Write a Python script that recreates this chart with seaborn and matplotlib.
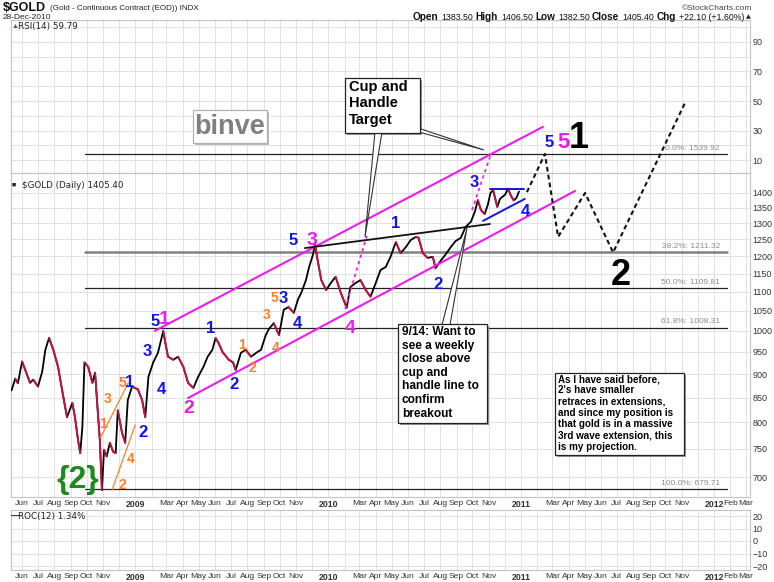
import numpy as np
import pandas as pd
import matplotlib
matplotlib.use("Agg")
import matplotlib.pyplot as plt
import matplotlib.ticker as mticker
from matplotlib.patches import Rectangle, Polygon
import seaborn as sns

# ---------------- data ----------------
price_dates = [
    "2008-05-12", "2008-05-19", "2008-05-24", "2008-06-01", "2008-06-07", "2008-06-16",
    "2008-06-22", "2008-07-01", "2008-07-09", "2008-07-15", "2008-07-22", "2008-07-30",
    "2008-08-08", "2008-08-18", "2008-08-25", "2008-09-04", "2008-09-09", "2008-09-15",
    "2008-09-19", "2008-09-23", "2008-09-27", "2008-10-04", "2008-10-12", "2008-10-17",
    "2008-10-22", "2008-10-26", "2008-10-30", "2008-11-03", "2008-11-08", "2008-11-14",
    "2008-11-20", "2008-11-25", "2008-11-29", "2008-12-07", "2008-12-13", "2008-12-18",
    "2008-12-26", "2009-01-06", "2009-01-14", "2009-01-20", "2009-01-26", "2009-02-04",
    "2009-02-13", "2009-02-23", "2009-02-27", "2009-03-04", "2009-03-14", "2009-03-23",
    "2009-04-02", "2009-04-11", "2009-04-21", "2009-04-30", "2009-05-10", "2009-05-18",
    "2009-05-27", "2009-06-02", "2009-06-08", "2009-06-15", "2009-06-27", "2009-07-05",
    "2009-07-10", "2009-07-20", "2009-07-29", "2009-08-08", "2009-08-18", "2009-08-27",
    "2009-09-05", "2009-09-11", "2009-09-20", "2009-09-30", "2009-10-09", "2009-10-18",
    "2009-10-28", "2009-11-05", "2009-11-11", "2009-11-20", "2009-11-26", "2009-12-03",
    "2009-12-07", "2009-12-13", "2009-12-19", "2009-12-28", "2010-01-06", "2010-01-15",
    "2010-01-25", "2010-02-05", "2010-02-12", "2010-02-22", "2010-03-03", "2010-03-13",
    "2010-03-22", "2010-04-01", "2010-04-10", "2010-04-20", "2010-04-29", "2010-05-09",
    "2010-05-18", "2010-05-28", "2010-06-06", "2010-06-16", "2010-06-21", "2010-06-29",
    "2010-07-08", "2010-07-18", "2010-07-23", "2010-08-01", "2010-08-11", "2010-08-21",
    "2010-08-30", "2010-09-09", "2010-09-18", "2010-09-28", "2010-10-06", "2010-10-11",
    "2010-10-17", "2010-10-24", "2010-10-30", "2010-11-04", "2010-11-09", "2010-11-17",
    "2010-11-22", "2010-12-02", "2010-12-07", "2010-12-13", "2010-12-18", "2010-12-23",
    "2010-12-28",
]
price_close = [
    865, 890, 880, 928, 909, 881,
    888, 873, 905, 955, 983, 955,
    916, 851, 810, 839, 810, 765,
    742, 791, 926, 916, 881, 903,
    824, 767, 678, 748, 736, 761,
    745, 742, 824, 780, 761, 845,
    873, 867, 845, 810, 894, 926,
    948, 1000, 971, 939, 932, 939,
    916, 881, 870, 894, 916, 939,
    955, 983, 970, 950, 932, 926,
    909, 948, 955, 939, 948, 955,
    990, 1005, 1019, 990, 1053, 1060,
    1045, 1080, 1097, 1132, 1169, 1203,
    1235, 1180, 1132, 1105, 1124, 1141,
    1097, 1058, 1113, 1124, 1132, 1105,
    1087, 1124, 1160, 1169, 1198, 1242,
    1209, 1227, 1248, 1258, 1255, 1209,
    1195, 1198, 1165, 1185, 1205, 1227,
    1245, 1255, 1289, 1305, 1340, 1376,
    1343, 1330, 1360, 1400, 1410, 1353,
    1380, 1395, 1415, 1390, 1375, 1383,
    1405,
]

fib_names = ["0.0%", "38.2%", "50.0%", "61.8%", "100.0%"]
fib_levels = [1539.92, 1211.32, 1109.81, 1008.31, 679.71]
fib_span = ["2008-09-28", "2012-01-25"]

upper_channel_dates = ["2009-02-07", "2011-02-11"]
upper_channel_prices = [1000, 1645]
lower_channel_dates = ["2009-04-11", "2011-04-13"]
lower_channel_prices = [849, 1407]
cup_line_dates = ["2009-11-18", "2010-11-03"]
cup_line_prices = [1224, 1298]
dash1_dates = ["2010-02-02", "2010-03-15"]
dash1_prices = [1055, 1261]
dash2_dates = ["2010-09-30", "2010-11-05"]
dash2_prices = [1343, 1540]
tri_top_dates = ["2010-11-03", "2011-01-06"]
tri_top_prices = [1414, 1414]
tri_bot_dates = ["2010-10-21", "2011-01-08"]
tri_bot_prices = [1308, 1380]
proj_dates = ["2011-01-12", "2011-02-15", "2011-03-12", "2011-05-02", "2011-06-24", "2011-11-07"]
proj_prices = [1403, 1540, 1258, 1400, 1211, 1744]
orange1_dates = ["2008-10-27", "2008-12-19"]
orange1_prices = [770, 881]
orange2_dates = ["2008-11-18", "2009-01-01"]
orange2_prices = [678, 795]

# wave labels: (date, price, text, colour-key, size)
wave_labels = [
    ("2009-02-07", 1022, "5", "blue", 12), ("2009-02-25", 1027, "1", "mag", 14),
    ("2009-01-23", 950, "3", "blue", 12), ("2009-02-19", 867, "4", "blue", 12),
    ("2009-01-16", 780, "2", "blue", 12), ("2008-12-22", 881, "1", "blue", 12),
    ("2009-05-24", 1005, "1", "blue", 12), ("2009-07-07", 877, "2", "blue", 12),
    ("2009-10-08", 1081, "3", "blue", 12), ("2009-11-03", 1019, "4", "blue", 12),
    ("2009-10-27", 1248, "5", "blue", 12), ("2010-05-09", 1301, "1", "blue", 12),
    ("2010-07-28", 1119, "2", "blue", 12), ("2010-10-04", 1438, "3", "blue", 12),
    ("2011-01-10", 1337, "4", "blue", 12), ("2011-02-23", 1582, "5", "blue", 12),
    ("2009-04-13", 828, "2", "mag", 14), ("2009-12-01", 1248, "3", "mag", 14),
    ("2010-02-11", 1007, "4", "mag", 14), ("2011-03-23", 1582, "5", "mag", 16),
    ("2008-11-01", 797, "1", "orange", 10), ("2008-11-10", 847, "3", "orange", 10),
    ("2008-12-07", 881, "5", "orange", 10), ("2008-12-24", 732, "4", "orange", 10),
    ("2008-12-07", 686, "2", "orange", 10), ("2009-07-22", 966, "1", "orange", 10),
    ("2009-08-10", 914, "2", "orange", 10), ("2009-09-07", 1040, "3", "orange", 10),
    ("2009-09-24", 959, "4", "orange", 10), ("2009-09-21", 1084, "5", "orange", 10),
    ("2011-04-20", 1601, "1", "black", 26), ("2011-07-09", 1144, "2", "black", 26),
    ("2008-09-15", 695, "{2}", "green", 23),
]

month_ticks = pd.date_range("2008-06-01", "2012-03-01", freq="MS")

# ---------------- style ----------------
sns.set_theme(style="white")
plt.rcParams["font.family"] = ["Liberation Sans", "DejaVu Sans"]

COL = {"blue": "#1414e6", "mag": "#ee1aee", "orange": "#ff7f2a",
       "black": "#000000", "green": "#1e8a1e"}
UP, DOWN = "#000000", "#d01040"
GRID = "#e2e2e2"

W, H = 774, 582
fig = plt.figure(figsize=(W / 100, H / 100), dpi=100)
fig.patch.set_facecolor("white")


def fx(x):
    return x / W


def fy(y):
    return 1 - y / H


L, R = 11, 750
ax_rsi = fig.add_axes([fx(L), fy(173), (R - L) / W, (173 - 20) / H], zorder=1)
ax = fig.add_axes([fx(L), fy(497), (R - L) / W, (497 - 173) / H], zorder=2)
ax_roc = fig.add_axes([fx(L), fy(570), (R - L) / W, (570 - 510) / H], zorder=1)
ax.set_facecolor("none")

dates = pd.to_datetime(price_dates)
close = np.array(price_close, dtype=float)

xmin, xmax = pd.Timestamp("2008-05-11"), pd.Timestamp("2012-03-09")

# price line via seaborn, down moves overlaid in red
sns.lineplot(x=dates, y=close, ax=ax, color=UP, lw=1.3, zorder=3)
for i in range(1, len(close)):
    if close[i] < close[i - 1]:
        ax.plot(dates[i - 1:i + 1], close[i - 1:i + 1], color=DOWN, lw=1.3, zorder=3.1,
                solid_capstyle="round")

ax.set_yscale("log")
ax.set_ylim(666.8, 1470)

for a in (ax_rsi, ax, ax_roc):
    a.set_xlim(xmin, xmax)
    a.set_xticks(month_ticks)
    a.grid(True, axis="x", color=GRID, lw=0.7)
    for s in a.spines.values():
        s.set_color("#c4c4c4")
        s.set_linewidth(0.8)
    a.yaxis.tick_right()
    a.tick_params(axis="both", length=0, pad=2, labelsize=6.5, colors="#333333")
    a.tick_params(axis="x", labelsize=6.1)
    a.set_xlabel("")
    a.set_ylabel("")

labels = []
for d in month_ticks:
    if d.month == 1:
        labels.append(str(d.year))
    elif d.month == 12 or (d.month == 2 and d.year != 2012):
        labels.append("")
    else:
        labels.append(d.strftime("%b"))
for a in (ax, ax_roc):
    a.set_xticklabels(labels)
    for t in a.get_xticklabels():
        if t.get_text().isdigit():
            t.set_fontweight("bold")
            t.set_fontsize(6.3)
ax_rsi.set_xticklabels([])

ax.yaxis.set_major_locator(mticker.FixedLocator(np.arange(700, 1401, 50)))
ax.yaxis.set_minor_locator(mticker.NullLocator())
ax.yaxis.set_major_formatter(mticker.FormatStrFormatter("%d"))
ax.grid(True, axis="y", color=GRID, lw=0.7)

ax_rsi.set_ylim(1.2, 104.9)
ax_rsi.set_yticks(np.arange(10, 101, 10))
ax_rsi.set_yticklabels([str(v) if v in (10, 30, 50, 70, 90) else "" for v in range(10, 101, 10)])
ax_rsi.grid(True, axis="y", color=GRID, lw=0.7)

ax_roc.set_ylim(-23.2, 24.8)
ax_roc.set_yticks([-20, -10, 0, 10, 20])
ax_roc.grid(True, axis="y", color=GRID, lw=0.7)

# ---------------- fibonacci lines ----------------
fs = pd.to_datetime(fib_span)
for name, lvl in zip(fib_names, fib_levels):
    lc, lw = ("#808080", 1.8) if name == "38.2%" else ("#222222", 0.9)
    ax.plot(fs, [lvl, lvl], color=lc, lw=lw, zorder=2.5, clip_on=False)
    ax.annotate(f"{name}: {lvl:.2f}", xy=(fs[1], lvl), xytext=(-5, 1.5),
                textcoords="offset points", ha="right", va="bottom",
                fontsize=6, color="#8c8c8c", annotation_clip=False, zorder=2.6)


# ---------------- trend lines ----------------
def seg(dl, pl, **kw):
    ax.plot(pd.to_datetime(dl), pl, clip_on=False, **kw)


seg(upper_channel_dates, upper_channel_prices, color=COL["mag"], lw=1.5, zorder=4)
seg(lower_channel_dates, lower_channel_prices, color=COL["mag"], lw=1.5, zorder=4)
seg(cup_line_dates, cup_line_prices, color="#111111", lw=1.3, zorder=4)
seg(dash1_dates, dash1_prices, color=COL["mag"], lw=1.2, ls=(0, (2, 2)), zorder=4)
seg(dash2_dates, dash2_prices, color=COL["mag"], lw=1.2, ls=(0, (2, 2)), zorder=4)
seg(tri_top_dates, tri_top_prices, color=COL["blue"], lw=1.4, zorder=4)
seg(tri_bot_dates, tri_bot_prices, color=COL["blue"], lw=1.4, zorder=4)
seg(proj_dates, proj_prices, color="#111111", lw=1.5, ls=(0, (2.2, 1.6)), zorder=4)
seg(orange1_dates, orange1_prices, color=COL["orange"], lw=0.9, zorder=4)
seg(orange2_dates, orange2_prices, color=COL["orange"], lw=0.9, zorder=4)

for d, p, txt, ck, size in wave_labels:
    ax.text(pd.Timestamp(d), p, txt, color=COL[ck], fontsize=size, fontweight="bold",
            ha="center", va="center", zorder=6, clip_on=False)

# ---------------- panel labels ----------------
fig.text(fx(18), fy(27), "RSI(14) 59.79", fontsize=6.3, family="DejaVu Sans",
         va="center", color="#222222")
fig.text(fx(12), fy(27), "\u25b2", fontsize=5, color="#2a7a2a", va="center")
fig.text(fx(22), fy(185), "$GOLD (Daily) 1405.40", fontsize=6.3, family="DejaVu Sans",
         va="center", color="#222222")
fig.text(fx(12), fy(185), "\u25a0", fontsize=5, color="#222222", va="center")
fig.text(fx(18), fy(516), "ROC(12) 1.34%", fontsize=6.3, family="DejaVu Sans",
         va="center", color="#222222")
fig.text(fx(11), fy(516), "\u2014", fontsize=6, color="#000000", va="center",
         fontweight="bold")

# ---------------- header ----------------
fig.text(fx(3), fy(8), "$GOLD", fontsize=9, fontweight="bold", va="center",
         color="#111111", family=["Liberation Sans Narrow", "Liberation Sans"])
fig.text(fx(50), fy(8.5), "(Gold - Continuous Contract (EOD)) INDX", fontsize=5.8,
         va="center", color="#222222")
fig.text(fx(3), fy(17.5), "28-Dec-2010", fontsize=6, va="center", color="#222222")
fig.text(fx(752), fy(8), "\u00a9StockCharts.com", fontsize=6, va="center", ha="right",
         color="#444444")

pieces = [("\u25b2", False), ("+22.10 (+1.60%)", False), ("Chg", True),
          ("1405.40", False), ("Close", True), ("1382.50", False), ("Low", True),
          ("1406.50", False), ("High", True), ("1383.50", False), ("Open", True)]
prev = fig.text(fx(751), fy(17), pieces[0][0], fontsize=4.5, ha="right", va="center",
                color="#222222", family="DejaVu Sans")
for s, b in pieces[1:]:
    prev = ax_rsi.annotate(s, xy=(0, 0.5), xycoords=prev, xytext=(-2.2 if b else -1.6, 0),
                           textcoords="offset points", ha="right", va="center",
                           fontsize=7.2 if b else 6.3, fontweight="bold" if b else "normal",
                           color="#111111", annotation_clip=False)


# ---------------- text boxes ----------------
def box(x0, y0, x1, y1, edge="#222222", shadow="#9a9a9a"):
    fig.add_artist(Rectangle((fx(x0 + 2), fy(y1 + 2)), (x1 - x0) / W, (y1 - y0) / H,
                             transform=fig.transFigure, facecolor=shadow,
                             edgecolor="none", zorder=9))
    fig.add_artist(Rectangle((fx(x0), fy(y1)), (x1 - x0) / W, (y1 - y0) / H,
                             transform=fig.transFigure, facecolor="white",
                             edgecolor=edge, lw=0.9, zorder=9.5))


def pointer(pts):
    fig.add_artist(Polygon([(fx(a), fy(b)) for a, b in pts], closed=True,
                           transform=fig.transFigure, facecolor="white",
                           edgecolor="#333333", lw=0.8, zorder=9.2))


box(193, 110, 267, 143, edge="#b0b0b0", shadow="#bbbbbb")
fig.text(fx(230), fy(126.5), "binve", fontsize=19.5, fontweight="bold", color="#808080",
         ha="center", va="center", zorder=10)

pointer([(375, 132), (382, 132), (365, 237)])
pointer([(412, 126), (419, 132), (484, 150)])
box(345, 78, 420, 133)
fig.text(fx(349), fy(80), "Cup and\nHandle\nTarget", fontsize=10.5, fontweight="bold",
         color="#000000", ha="left", va="top", linespacing=1.22, zorder=10)

pointer([(442, 325), (450, 325), (467, 228)])
box(398, 324, 487, 423)
fig.text(fx(402), fy(326),
         "9/14: Want to\nsee a weekly\nclose above\ncup and\nhandle line to\nconfirm\nbreakout",
         fontsize=8.6, fontweight="bold", color="#000000", ha="left", va="top",
         linespacing=1.18, zorder=10)

box(555, 373, 684, 455)
fig.text(fx(558), fy(374),
         "As I have said before,\n2's have smaller\nretraces in extensions,\n"
         "and since my position is\nthat gold is in a massive\n3rd wave extension, this\n"
         "is my projection.",
         fontsize=7.1, fontweight="bold", color="#000000", ha="left", va="top",
         linespacing=1.17, zorder=10)

fig.savefig("out.png", dpi=100, facecolor="white")
